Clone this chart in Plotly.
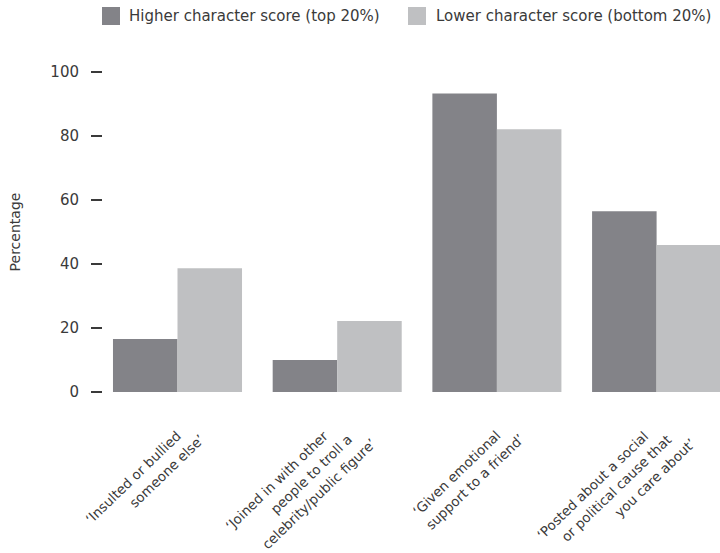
import plotly.graph_objects as go

# Survey categories and percentages per character-score group
categories = [
    "‘Insulted or bullied<br>someone else’",
    "‘Joined in with other<br>people to troll a<br>celebrity/public figure’",
    "‘Given emotional<br>support to a friend’",
    "‘Posted about a social<br>or political cause that<br>you care about’",
]
higher_score = [16.6, 10.0, 93.3, 56.5]
lower_score = [38.7, 22.2, 82.1, 45.9]
series_names = ["Higher character score (top 20%)", "Lower character score (bottom 20%)"]
y_ticks = [0, 20, 40, 60, 80, 100]

DARK = "#838388"
LIGHT = "#bfc0c2"
TEXT = "#3a3a3a"
FONT = "DejaVu Sans"

W, H = 720, 553
L, R, T, B = 103, 0, 72, 161
PW, PH = W - L - R, H - T - B
X_RANGE = [-0.4665, 3.397]

fig = go.Figure()
fig.add_trace(go.Bar(x=list(range(len(categories))), y=higher_score, name=series_names[0],
                     marker=dict(color=DARK, line=dict(width=0)), showlegend=False))
fig.add_trace(go.Bar(x=list(range(len(categories))), y=lower_score, name=series_names[1],
                     marker=dict(color=LIGHT, line=dict(width=0)), showlegend=False))


def px_x(px):
    return (px - L) / PW


def px_y(py):
    return (H - B - py) / PH


shapes = []
annotations = []

# Legend drawn as swatches + labels across the top
for (sx, tx), name, col in zip([(102, 127), (408, 434)], series_names, [DARK, LIGHT]):
    shapes.append(dict(type="rect", xref="paper", yref="paper",
                       x0=px_x(sx), x1=px_x(sx + 18), y0=px_y(25), y1=px_y(7),
                       fillcolor=col, line=dict(width=0)))
    annotations.append(dict(text=name, xref="paper", yref="paper",
                            x=px_x(tx), y=px_y(16), xanchor="left", yanchor="middle",
                            showarrow=False, font=dict(family=FONT, size=15, color=TEXT)))

# Category labels: each line set as its own slanted text, stepping down-right
for i, label in enumerate(categories):
    lines = label.split("<br>")
    first_dx = -4 if len(lines) == 3 else 8
    for j, line in enumerate(lines):
        annotations.append(dict(
            text=line, xref="x", yref="paper", x=i, y=px_y(426 + 4 * j),
            xshift=first_dx + 23.5 * j, xanchor="right", yanchor="top",
            textangle=-44, showarrow=False, borderpad=0,
            font=dict(family=FONT, size=13.5, color=TEXT),
        ))

fig.update_layout(
    width=W, height=H,
    margin=dict(l=L, r=R, t=T, b=B, autoexpand=False),
    paper_bgcolor="white", plot_bgcolor="white",
    barmode="group", bargap=0.192, bargroupgap=0,
    font=dict(family=FONT, size=15, color=TEXT),
    shapes=shapes, annotations=annotations,
    showlegend=False,
)
fig.update_xaxes(
    type="linear", range=X_RANGE, showgrid=False, showline=False, zeroline=False,
    ticks="", showticklabels=False, automargin=False,
)
fig.update_yaxes(
    range=[0, 100], tickvals=y_ticks, showgrid=False, showline=False, zeroline=False,
    ticks="outside", ticklen=11, tickwidth=1.5, tickcolor=TEXT,
    ticklabelstandoff=9, tickfont=dict(family=FONT, size=15, color=TEXT),
    title=dict(text="Percentage", font=dict(family=FONT, size=14, color=TEXT), standoff=26),
    automargin=False,
)

fig.write_html("out.html")
